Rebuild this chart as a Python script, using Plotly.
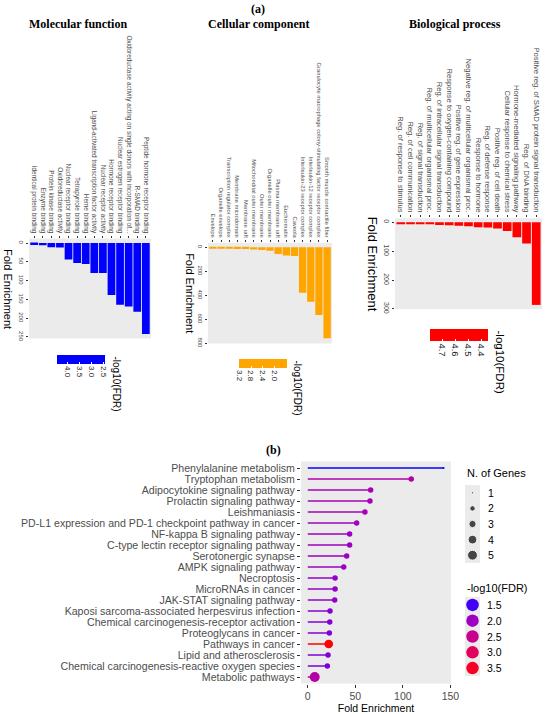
import plotly.graph_objects as go

W, H = 550, 714

# ---------------- DATA ----------------
mf_terms = ["Identical protein binding", "Enzyme binding", "Protein kinase binding",
            "Oxidoreductase activity", "Nuclear receptor binding", "Tetrapyrrole binding",
            "Heme binding", "Ligand-activated transcription factor activity",
            "Nuclear receptor activity", "Hormone receptor binding",
            "Nuclear estrogen receptor binding",
            "Oxidoreductase activity acting on single donors with incorporation of...",
            "R-SMAD binding", "Peptide hormone receptor binding"]
mf_fold = [5, 6, 11, 12, 44, 53, 56, 80, 80, 138, 164, 169, 183, 242]
mf_ticks = [0, 50, 100, 150, 200, 250]
mf_fdr_range = [2.43, 4.42]
mf_fdr_ticks = [4.0, 3.5, 3.0, 2.5]

cc_terms = ["Envelope", "Organelle envelope", "Transcription regulator complex",
            "Membrane microdomain", "Membrane raft", "Mitochondrial outer membrane",
            "Outer membrane", "Organelle outer membrane", "Plasma membrane raft",
            "Euchromatin", "Caveola", "Interleukin-23 receptor complex",
            "Interleukin-12 receptor complex",
            "Granulocyte macrophage colony-stimulating factor receptor complex",
            "Smooth muscle contractile fiber"]
cc_fold = [8, 8, 11, 14, 14, 17, 22, 28, 56, 69, 72, 378, 453, 564, 758]
cc_ticks = [0, 200, 400, 600, 800]
cc_fdr_range = [1.58, 3.23]
cc_fdr_ticks = [3.2, 2.8, 2.4, 2.0]

bp_terms = ["Reg. of response to stimulus", "Reg. of cell communication",
            "Reg. of signal transduction", "Reg. of multicellular organismal proc.",
            "Reg. of intracellular signal transduction",
            "Response to oxygen-containing compound", "Positive reg. of gene expression",
            "Negative reg. of multicellular organismal proc.", "Response to hormone",
            "Reg. of defense response", "Positive reg. of cell death",
            "Cellular response to chemical stress", "Hormone-mediated signaling pathway",
            "Reg. of DNA binding", "Positive reg. of SMAD protein signal transduction"]
bp_fold = [6, 6, 7, 7, 9, 10, 12, 14, 17, 18, 21, 30, 52, 73, 286]
bp_ticks = [0, 100, 200, 300]
bp_fdr_range = [4.35, 4.795]
bp_fdr_ticks = [4.7, 4.6, 4.5, 4.4]

kegg_terms = ["Phenylalanine metabolism", "Tryptophan metabolism",
              "Adipocytokine signaling pathway", "Prolactin signaling pathway",
              "Leishmaniasis", "PD-L1 expression and PD-1 checkpoint pathway in cancer",
              "NF-kappa B signaling pathway", "C-type lectin receptor signaling pathway",
              "Serotonergic synapse", "AMPK signaling pathway", "Necroptosis",
              "MicroRNAs in cancer", "JAK-STAT signaling pathway",
              "Kaposi sarcoma-associated herpesvirus infection",
              "Chemical carcinogenesis-receptor activation", "Proteoglycans in cancer",
              "Pathways in cancer", "Lipid and atherosclerosis",
              "Chemical carcinogenesis-reactive oxygen species", "Metabolic pathways"]
kegg_fold = [142.7, 108.8, 66.1, 65.4, 60.1, 51.4, 44.0, 44.0, 40.9, 37.8,
             28.7, 28.7, 28.3, 23.4, 23.1, 22.7, 22.0, 21.3, 20.6, 7.3]
kegg_fdr = [1.4, 2.2, 2.1, 2.1, 2.1, 2.05, 2.0, 2.0, 2.0, 1.95,
            1.9, 1.9, 1.9, 1.8, 1.8, 1.8, 3.7, 1.78, 1.75, 2.25]
kegg_genes = [1, 2, 2, 2, 2, 2, 2, 2, 2, 2, 2, 2, 2, 2, 2, 2, 4, 2, 2, 5]
kegg_ticks = [0, 50, 100, 150]
gene_legend = [1, 2, 3, 4, 5]
fdr_legend = [1.5, 2.0, 2.5, 3.0, 3.5]


# ---------------- helpers ----------------
def PX(p):
    return p / W


def PY(p):
    return 1 - p / H


_M = [[0.4124564, 0.3575761, 0.1804375], [0.2126729, 0.7151522, 0.0721750],
      [0.0193339, 0.1191920, 0.9503041]]
_Mi = [[3.2404542, -1.5371385, -0.4985314], [-0.9692660, 1.8760108, 0.0415560],
       [0.0556434, -0.2040259, 1.0572252]]
_WH = (0.95047, 1.0, 1.08883)
_d = 6 / 29


def _f(t):
    return t ** (1 / 3) if t > _d ** 3 else t / (3 * _d ** 2) + 4 / 29


def _fi(t):
    return t ** 3 if t > _d else 3 * _d ** 2 * (t - 4 / 29)


def hex2lab(h):
    rgb = [int(h[i:i + 2], 16) / 255 for i in (1, 3, 5)]
    lin = [c / 12.92 if c <= 0.04045 else ((c + 0.055) / 1.055) ** 2.4 for c in rgb]
    xyz = [sum(_M[r][k] * lin[k] for k in range(3)) for r in range(3)]
    fx, fy, fz = (_f(xyz[i] / _WH[i]) for i in range(3))
    return (116 * fy - 16, 500 * (fx - fy), 200 * (fy - fz))


def lab2hex(lab):
    L, a, b = lab
    fy = (L + 16) / 116
    fx = fy + a / 500
    fz = fy - b / 200
    xyz = [_WH[0] * _fi(fx), _WH[1] * _fi(fy), _WH[2] * _fi(fz)]
    lin = [sum(_Mi[r][k] * xyz[k] for k in range(3)) for r in range(3)]
    out = []
    for c in lin:
        c = max(0.0, min(1.0, c))
        c = 12.92 * c if c <= 0.0031308 else 1.055 * c ** (1 / 2.4) - 0.055
        out.append(int(round(max(0, min(1, c)) * 255)))
    return "#%02X%02X%02X" % tuple(out)


LAB_LO, LAB_HI = hex2lab("#0000FF"), hex2lab("#FF0000")


def grad(t):
    t = max(0.0, min(1.0, t))
    return lab2hex(tuple(LAB_LO[i] + (LAB_HI[i] - LAB_LO[i]) * t for i in range(3)))


FDR_MIN, FDR_MAX = min(kegg_fdr), max(kegg_fdr)
lab_scale = [[i / 20, grad(i / 20)] for i in range(21)]


def fdr_color(v):
    return grad((v - FDR_MIN) / (FDR_MAX - FDR_MIN))


def gene_size(v):
    lo, hi = min(kegg_genes), max(kegg_genes)
    area = 1 + (36 - 1) * (v - lo) / (hi - lo)
    return 1.55 * area ** 0.5 + 0.6


GREY = "#4D4D4D"
SERIF = "Liberation Serif, Times New Roman, serif"
fig = go.Figure()
layout = dict(
    width=W, height=H, margin=dict(l=0, r=0, t=0, b=0, autoexpand=False),
    paper_bgcolor="white", plot_bgcolor="#EBEBEB", showlegend=False,
    font=dict(family="Liberation Sans, Arial, sans-serif", color="black"),
    bargap=0.1, annotations=[],
)

# ---------------- top panels ----------------
panels = [
    dict(terms=mf_terms, fold=mf_fold, ticks=mf_ticks, col="#0000FF", fr=mf_fdr_range,
         ft=mf_fdr_ticks, xd=(29, 151), yd=(238.5, 338.5), title="Molecular function",
         tx=77.5, fex=8.5, cf=6.4, tf=6, fef=11, cbx=81.2, cbl=47.7, cbt=355, cbh=9,
         cbf=8, ltx=116, ltf=10),
    dict(terms=cc_terms, fold=cc_fold, ticks=cc_ticks, col="#FFA500", fr=cc_fdr_range,
         ft=cc_fdr_ticks, xd=(208, 332), yd=(242.8, 343.5), title="Cellular component",
         tx=258, fex=190, cf=5.8, tf=6, fef=11, cbx=262.5, cbl=48.4, cbt=359, cbh=9,
         cbf=8, ltx=297, ltf=10),
    dict(terms=bp_terms, fold=bp_fold, ticks=bp_ticks, col="#FF0000", fr=bp_fdr_range,
         ft=bp_fdr_ticks, xd=(395, 542), yd=(218.2, 309.1), title="Biological process",
         tx=455, fex=372, cf=7.6, tf=7, fef=13, cbx=459, cbl=58, cbt=329, cbh=12,
         cbf=9.5, ltx=499, ltf=11.5),
]

for i, p in enumerate(panels, start=1):
    xa = "x" if i == 1 else f"x{i}"
    ya = "y" if i == 1 else f"y{i}"
    n = len(p["terms"])
    fig.add_trace(go.Bar(x=p["terms"], y=p["fold"], xaxis=xa, yaxis=ya,
                         marker=dict(color=p["col"], line=dict(width=0)),
                         hoverinfo="x+y"))
    mx = max(p["fold"])
    y_hi = max(mx * 1.05, max(p["ticks"]) * 1.002)
    layout["xaxis" if i == 1 else f"xaxis{i}"] = dict(
        domain=[PX(p["xd"][0]), PX(p["xd"][1])], anchor=ya, side="top",
        type="category", categoryorder="array", categoryarray=p["terms"],
        tickmode="array", tickvals=p["terms"],
        range=[-0.6, n - 0.4], tickangle=90,
        tickfont=dict(size=p["cf"], color=GREY), ticks="outside", ticklen=2,
        tickwidth=0.6, tickcolor="#333333", showgrid=False, zeroline=False,
        showline=False)
    layout["yaxis" if i == 1 else f"yaxis{i}"] = dict(
        domain=[PY(p["yd"][1]), PY(p["yd"][0])], anchor=xa,
        range=[y_hi, -mx * 0.05], tickvals=p["ticks"], tickangle=90,
        tickfont=dict(size=p["tf"], color=GREY), ticks="outside", ticklen=2,
        tickwidth=0.6, tickcolor="#333333", showgrid=False, zeroline=False,
        showline=False)
    # colour bar legend (values negated so that the bar reads high -> low)
    lo, hi = p["fr"]
    fig.add_trace(go.Scatter(
        x=[None], y=[None], xaxis=xa, yaxis=ya, mode="markers", hoverinfo="skip",
        marker=dict(color=[-hi], cmin=-hi, cmax=-lo,
                    colorscale=[[0, p["col"]], [1, p["col"]]], showscale=True,
                    colorbar=dict(orientation="h", x=PX(p["cbx"]), xanchor="center",
                                  y=PY(p["cbt"]), yanchor="top", len=p["cbl"],
                                  lenmode="pixels", thickness=p["cbh"],
                                  thicknessmode="pixels", xpad=0, ypad=0,
                                  outlinewidth=0, tickvals=[-t for t in p["ft"]],
                                  ticktext=[f"{t:.1f}" for t in p["ft"]],
                                  tickangle=90, ticks="inside", tickcolor="white",
                                  ticklen=2, tickfont=dict(size=p["cbf"], color="#1A1A1A"),
                                  title=dict(text="")))))
    layout["annotations"] += [
        dict(text="<b>" + p["title"] + "</b>", x=PX(p["tx"]), y=PY(24), xref="paper",
             yref="paper", showarrow=False, xanchor="center", yanchor="middle",
             borderpad=0, font=dict(family=SERIF, size=12)),
        dict(text="Fold Enrichment", textangle=90, x=PX(p["fex"]),
             y=PY((p["yd"][0] + p["yd"][1]) / 2), xref="paper", yref="paper",
             showarrow=False, xanchor="center", yanchor="middle",
             font=dict(size=p["fef"])),
        dict(text="-log10(FDR)", textangle=90, x=PX(p["ltx"]), y=PY(p["cbt"] - 1),
             xref="paper", yref="paper", showarrow=False, xanchor="center",
             yanchor="top", font=dict(size=p["ltf"])),
    ]

layout["annotations"] += [
    dict(text="<b>(a)</b>", x=PX(258), y=PY(9.5), xref="paper", yref="paper",
         xanchor="center", yanchor="middle", showarrow=False, borderpad=0,
         font=dict(family=SERIF, size=12)),
    dict(text="<b>(b)</b>", x=PX(273), y=PY(450), xref="paper", yref="paper",
         xanchor="center", yanchor="middle", showarrow=False,
         font=dict(family=SERIF, size=12)),
]

# ---------------- lollipop (b) ----------------
for term, fe, fdr in zip(kegg_terms, kegg_fold, kegg_fdr):
    fig.add_trace(go.Scatter(x=[0, fe], y=[term, term], xaxis="x4", yaxis="y4",
                             mode="lines", line=dict(color=fdr_color(fdr), width=1.7),
                             hoverinfo="skip"))
fig.add_trace(go.Scatter(
    x=kegg_fold, y=kegg_terms, xaxis="x4", yaxis="y4", mode="markers",
    marker=dict(size=[gene_size(g) for g in kegg_genes], color=kegg_fdr,
                cmin=FDR_MIN, cmax=FDR_MAX, colorscale=lab_scale, line=dict(width=0),
                opacity=1),
    customdata=kegg_genes, hovertemplate="%{y}<br>%{x}<br>genes %{customdata}<extra></extra>"))

kmax = max(kegg_fold)
nk = len(kegg_terms)
x4_hi = max(1.05 * kmax, max(kegg_ticks)) + 0.6
layout["xaxis4"] = dict(domain=[PX(301), PX(451)], anchor="y4",
                        range=[-0.05 * kmax, x4_hi], tickvals=kegg_ticks,
                        tickfont=dict(size=10.5, color=GREY), ticks="outside", ticklen=3,
                        tickwidth=0.7, tickcolor="#333333", showgrid=False,
                        zeroline=False, showline=False,
                        title=dict(text="Fold Enrichment", font=dict(size=10.5), standoff=2))
layout["yaxis4"] = dict(domain=[PY(683.6), PY(461.4)], anchor="x4", type="category",
                        categoryorder="array", categoryarray=kegg_terms,
                        tickmode="array", tickvals=kegg_terms,
                        range=[nk - 0.4, -0.6], tickfont=dict(size=10.6, color=GREY),
                        ticks="outside", ticklen=3, tickwidth=0.7, tickcolor="#333333",
                        showgrid=False, zeroline=False, showline=False)

# ---------------- legends for (b) ----------------
fig.add_trace(go.Scatter(x=[0.5] * len(gene_legend), y=list(range(len(gene_legend))),
                         xaxis="x5", yaxis="y5", mode="markers", hoverinfo="skip",
                         marker=dict(size=[gene_size(g) for g in gene_legend],
                                     color="black")))
fig.add_trace(go.Scatter(x=[0.5] * len(fdr_legend), y=list(range(len(fdr_legend))),
                         xaxis="x6", yaxis="y6", mode="markers", hoverinfo="skip",
                         marker=dict(size=12.5, color=fdr_legend, cmin=FDR_MIN,
                                     cmax=FDR_MAX, colorscale=lab_scale)))
hidden = dict(showgrid=False, zeroline=False, showticklabels=False, ticks="",
              showline=False, fixedrange=True)
layout["xaxis5"] = dict(domain=[PX(465), PX(480)], anchor="y5", range=[0, 1], **hidden)
layout["yaxis5"] = dict(domain=[PY(563), PY(485)], anchor="x5",
                        range=[len(gene_legend) - 0.5, -0.5], **hidden)
layout["xaxis6"] = dict(domain=[PX(465), PX(480)], anchor="y6", range=[0, 1], **hidden)
layout["yaxis6"] = dict(domain=[PY(676), PY(597)], anchor="x6",
                        range=[len(fdr_legend) - 0.5, -0.5], **hidden)

layout["annotations"] += [
    dict(text="N. of Genes", x=PX(465), y=PY(473), xref="paper", yref="paper",
         xanchor="left", yanchor="middle", showarrow=False, font=dict(size=11)),
    dict(text="-log10(FDR)", x=PX(465), y=PY(588), xref="paper", yref="paper",
         xanchor="left", yanchor="middle", showarrow=False, font=dict(size=11)),
]
for k, g in enumerate(gene_legend):
    layout["annotations"].append(dict(text=str(g), x=PX(486), y=k, xref="paper",
                                      yref="y5", xanchor="left", yanchor="middle",
                                      showarrow=False, font=dict(size=10.5)))
for k, v in enumerate(fdr_legend):
    layout["annotations"].append(dict(text=f"{v:.1f}", x=PX(485), y=k, xref="paper",
                                      yref="y6", xanchor="left", yanchor="middle",
                                      showarrow=False, font=dict(size=10.5)))

fig.update_layout(**layout)
fig.write_html("out.html", config={"displayModeBar": False},
               post_script="document.body.style.margin='0';document.body.style.padding='0';")
